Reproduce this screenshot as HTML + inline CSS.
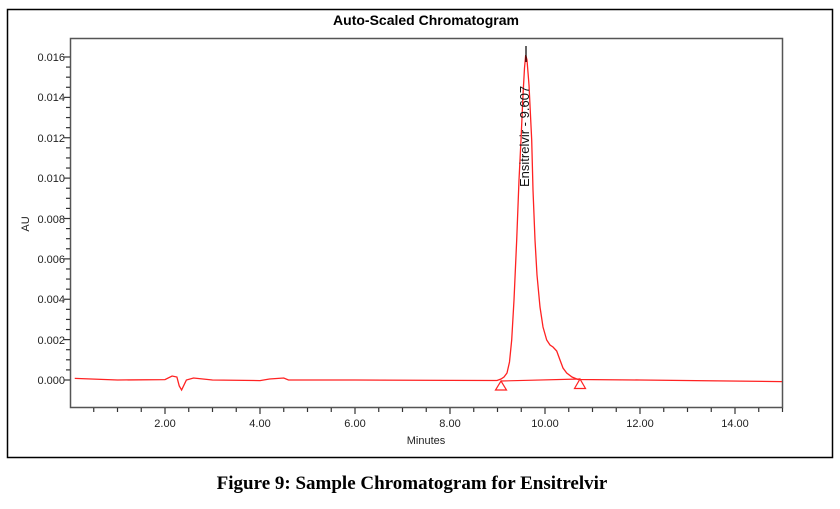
<!DOCTYPE html>
<html><head><meta charset="utf-8"><style>
html,body{margin:0;padding:0;background:#fff;width:840px;height:509px;overflow:hidden}
</style></head><body>
<svg width="840" height="509" xmlns="http://www.w3.org/2000/svg" style="position:absolute;left:0;top:0">
<rect x="7.5" y="9.5" width="825" height="448" fill="none" stroke="#000" stroke-width="1.5"/>
<text x="426" y="25" font-family="Liberation Sans, sans-serif" font-weight="bold" font-size="14" text-anchor="middle">Auto-Scaled Chromatogram</text>
<rect x="70.5" y="38.5" width="712" height="369" fill="none" stroke="#555" stroke-width="1.5"/>
<g font-family="Liberation Sans, sans-serif" font-size="11" fill="#222" text-anchor="end">
<text x="65" y="384">0.000</text><text x="65" y="344">0.002</text><text x="65" y="303">0.004</text><text x="65" y="263">0.006</text><text x="65" y="223">0.008</text><text x="65" y="182">0.010</text><text x="65" y="142">0.012</text><text x="65" y="101">0.014</text><text x="65" y="61">0.016</text>
</g>
<g font-family="Liberation Sans, sans-serif" font-size="11" fill="#222" text-anchor="middle">
<text x="165" y="427">2.00</text><text x="260" y="427">4.00</text><text x="355" y="427">6.00</text><text x="450" y="427">8.00</text><text x="545" y="427">10.00</text><text x="640" y="427">12.00</text><text x="735" y="427">14.00</text>
<text x="426" y="444">Minutes</text>
</g>
<text x="29" y="224" font-family="Liberation Sans, sans-serif" font-size="11" fill="#222" text-anchor="middle" transform="rotate(-90 29 224)">AU</text>
<g stroke="#333" stroke-width="1.2" id="ticks"></g>
<polyline fill="none" stroke="#f22" stroke-width="1.3" points="74.75,378.4 117.5,380 165,379.6 172.1,376 176.9,377 179.25,386 181.6,390 186.4,380 193.5,378 212.5,380 260,380.6 269.5,379 283.75,378 288.5,380 355,380 450,380.4 497,380.5 501,379 504,377 507,373 509.5,362 511.7,340 514,300 516.7,240 519,180 521,140 523,95 524.5,68 525.7,55 527,60 529,85 531.7,140 533,190 535,240 537,275 540,307 543,327 546.7,340 550,345 553,347 556.7,351 560,360 563,368 566.7,373 572,377 578,379.5 640,380 782,381.6"/>
<line x1="501" y1="381" x2="580" y2="379" stroke="#f22" stroke-width="1.2"/>
<polygon points="501,381 495.5,390 506.5,390" fill="none" stroke="#f22" stroke-width="1.2"/>
<polygon points="580,379 574.5,388.5 585.5,388.5" fill="none" stroke="#f22" stroke-width="1.2"/>
<line x1="526" y1="46" x2="526" y2="62" stroke="#000" stroke-width="1.2"/>
<text x="529" y="187" font-family="Liberation Sans, sans-serif" font-size="13" fill="#111" transform="rotate(-90 529 187)">Ensitrelvir - 9.607</text>
<text x="412" y="489" font-family="Liberation Serif, serif" font-weight="bold" font-size="19" text-anchor="middle">Figure 9: Sample Chromatogram for Ensitrelvir</text>
</svg>
<script>
var g=document.getElementById('ticks'),s='';
for(var i=0;i<=32;i++){var v=i*0.0005,y=380-v*20187.5;var L=(i%4==0)?6:4;s+='<line x1="'+(70-L)+'" y1="'+y+'" x2="70" y2="'+y+'"/>';}
for(var j=1;j<=30;j++){var x=70+j*0.5*47.5;var L=(j%4==0)?6:4;s+='<line x1="'+x+'" y1="408" x2="'+x+'" y2="'+(408+L)+'"/>';}
g.innerHTML=s;
</script>
</body></html>
